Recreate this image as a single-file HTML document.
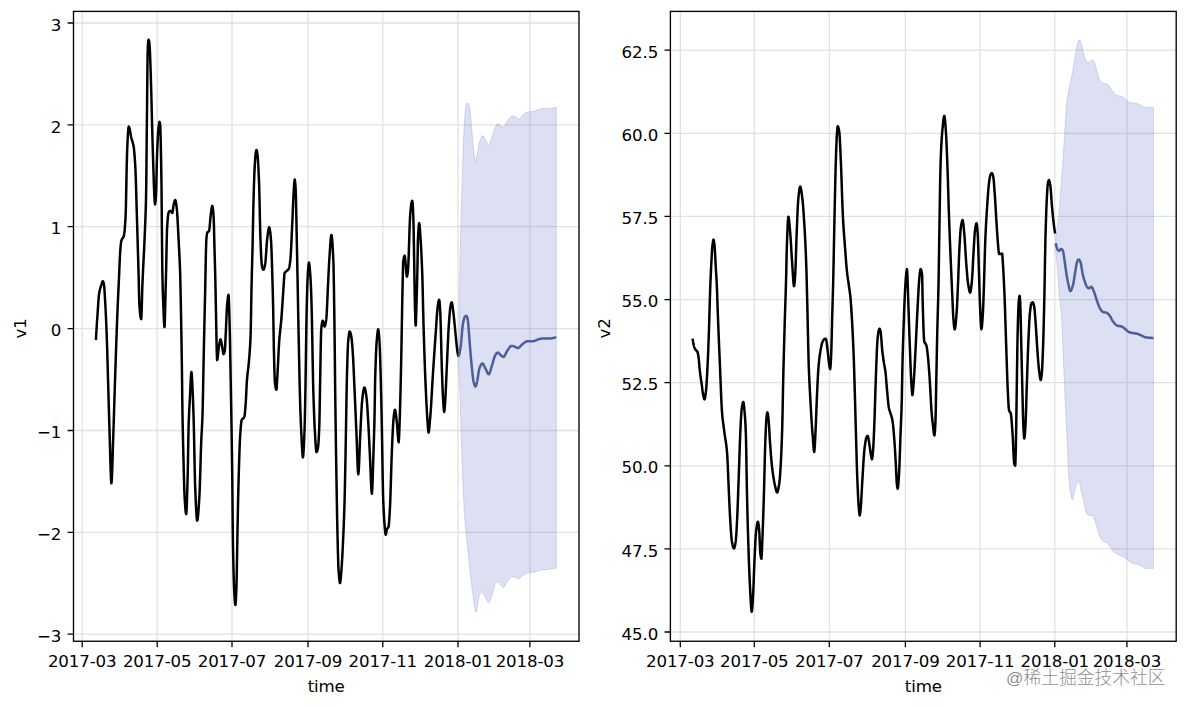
<!DOCTYPE html>
<html><head><meta charset="utf-8"><title>forecast</title>
<style>html,body{margin:0;padding:0;background:#fff}svg{display:block}text{font-family:"DejaVu Sans","Liberation Sans",sans-serif;font-size:16.67px;fill:#000;letter-spacing:-0.15px}.wm{letter-spacing:0;font-family:"Liberation Sans","Noto Sans CJK SC",sans-serif}</style></head><body>
<svg width="1187" height="707" viewBox="0 0 1187 707">
<rect width="1187" height="707" fill="#fff"/>
<clipPath id="cl"><rect x="73.5" y="11.4" width="505.5" height="629.85"/></clipPath>
<path d="M82.2 11.4V641.25M157.2 11.4V641.25M232.0 11.4V641.25M308.0 11.4V641.25M382.8 11.4V641.25M458.0 11.4V641.25M529.9 11.4V641.25M73.5 23.0H579.0M73.5 124.9H579.0M73.5 226.7H579.0M73.5 328.6H579.0M73.5 430.5H579.0M73.5 532.4H579.0M73.5 634.2H579.0" fill="none" stroke="#b0b0b0" stroke-opacity="0.38" stroke-width="1.3"/>
<g clip-path="url(#cl)">
<path d="M458.6 346.0 L459.0 319.9 L459.4 295.7 L459.5 290.0 L459.8 273.4 L460.2 252.3 L460.6 233.4 L460.8 225.0 L461.0 217.3 L461.4 203.3 L461.8 190.6 L462.2 178.7 L462.5 170.0 L462.6 167.1 L463.0 155.2 L463.4 144.0 L463.8 134.1 L464.0 130.0 L464.2 126.2 L464.6 118.9 L465.0 112.7 L465.4 108.6 L465.5 108.0 L465.8 106.6 L466.2 105.0 L466.6 103.8 L467.0 103.1 L467.3 102.9 L467.4 102.9 L467.8 103.1 L468.2 103.5 L468.6 104.2 L469.0 105.0 L469.4 106.0 L469.4 106.0 L469.8 108.0 L470.2 111.5 L470.6 115.8 L471.0 120.0 L471.0 120.0 L471.4 124.3 L471.8 129.0 L472.2 133.9 L472.6 138.7 L473.0 143.0 L473.0 143.0 L473.4 147.1 L473.8 151.2 L474.2 154.8 L474.6 157.9 L474.8 159.0 L475.0 160.0 L475.4 161.3 L475.4 161.3 L475.8 160.6 L476.2 159.0 L476.6 157.0 L477.0 155.0 L477.0 155.0 L477.4 153.0 L477.8 150.7 L478.2 148.3 L478.6 146.0 L479.0 143.9 L479.4 142.3 L479.5 142.0 L479.8 141.1 L480.2 140.0 L480.6 138.9 L481.0 137.9 L481.4 137.1 L481.8 136.4 L482.2 135.9 L482.6 135.6 L482.8 135.6 L483.0 135.6 L483.4 136.0 L483.8 136.6 L484.2 137.3 L484.6 138.2 L485.0 139.1 L485.4 139.8 L485.5 140.0 L485.8 140.5 L486.2 141.4 L486.6 142.2 L487.0 143.1 L487.4 143.9 L487.8 144.6 L488.2 145.1 L488.6 145.3 L488.7 145.3 L489.0 145.2 L489.4 144.7 L489.8 143.8 L490.2 142.8 L490.6 141.5 L491.0 140.2 L491.4 138.9 L491.8 137.6 L492.0 137.0 L492.2 136.4 L492.6 135.1 L493.0 133.7 L493.4 132.2 L493.8 130.9 L494.2 129.7 L494.5 129.0 L494.6 128.8 L495.0 127.9 L495.4 127.1 L495.8 126.3 L496.2 125.5 L496.6 124.9 L497.0 124.3 L497.4 124.0 L497.8 123.8 L497.9 123.8 L498.2 123.8 L498.6 124.0 L499.0 124.3 L499.4 124.6 L499.8 125.0 L500.2 125.3 L500.5 125.5 L500.6 125.6 L501.0 125.8 L501.4 126.1 L501.8 126.4 L502.2 126.6 L502.6 126.8 L503.0 127.0 L503.3 127.0 L503.4 127.0 L503.8 126.8 L504.2 126.4 L504.6 125.8 L505.0 125.1 L505.4 124.3 L505.8 123.5 L506.2 122.8 L506.6 122.1 L507.0 121.5 L507.0 121.5 L507.4 121.0 L507.8 120.5 L508.2 119.9 L508.6 119.3 L509.0 118.8 L509.4 118.2 L509.8 117.7 L510.2 117.3 L510.6 116.8 L511.0 116.5 L511.4 116.2 L511.8 116.0 L512.2 115.8 L512.5 115.8 L512.6 115.8 L513.0 115.9 L513.4 116.0 L513.8 116.1 L514.2 116.3 L514.6 116.5 L515.0 116.7 L515.4 117.0 L515.5 117.0 L515.8 117.2 L516.2 117.4 L516.6 117.7 L517.0 118.0 L517.4 118.3 L517.8 118.6 L518.2 118.8 L518.6 118.9 L519.0 119.0 L519.0 119.0 L519.4 118.9 L519.8 118.7 L520.2 118.3 L520.6 117.9 L521.0 117.4 L521.4 116.9 L521.8 116.3 L522.2 115.8 L522.6 115.4 L523.0 115.0 L523.0 115.0 L523.4 114.7 L523.8 114.3 L524.2 114.0 L524.6 113.7 L525.0 113.4 L525.4 113.1 L525.8 112.8 L526.2 112.5 L526.6 112.3 L527.0 112.2 L527.4 112.0 L527.6 112.0 L527.8 112.0 L528.2 111.9 L528.6 111.9 L529.0 111.8 L529.4 111.8 L529.8 111.8 L530.2 111.7 L530.6 111.7 L531.0 111.7 L531.4 111.7 L531.8 111.6 L532.2 111.6 L532.6 111.6 L533.0 111.5 L533.0 111.5 L533.4 111.4 L533.8 111.3 L534.2 111.2 L534.6 111.1 L535.0 110.9 L535.4 110.7 L535.8 110.5 L536.2 110.3 L536.6 110.1 L537.0 109.9 L537.4 109.7 L537.8 109.6 L538.2 109.4 L538.6 109.2 L539.0 109.1 L539.4 108.9 L539.8 108.8 L540.2 108.7 L540.6 108.7 L540.6 108.7 L541.0 108.7 L541.4 108.6 L541.8 108.6 L542.2 108.6 L542.6 108.6 L543.0 108.6 L543.4 108.6 L543.8 108.5 L544.2 108.5 L544.6 108.5 L545.0 108.5 L545.4 108.5 L545.8 108.5 L546.2 108.5 L546.6 108.5 L547.0 108.5 L547.4 108.4 L547.8 108.4 L548.2 108.4 L548.6 108.4 L549.0 108.4 L549.4 108.4 L549.8 108.3 L550.2 108.3 L550.3 108.3 L550.6 108.3 L551.0 108.2 L551.4 108.2 L551.8 108.1 L552.2 108.1 L552.6 108.0 L553.0 107.9 L553.4 107.9 L553.8 107.8 L554.2 107.7 L554.6 107.6 L555.0 107.5 L555.4 107.4 L555.8 107.3 L556.2 107.2 L556.3 107.2 L556.3 568.1 L556.2 568.1 L555.8 568.2 L555.4 568.3 L555.0 568.3 L554.6 568.4 L554.2 568.5 L553.8 568.6 L553.4 568.6 L553.0 568.7 L552.6 568.8 L552.2 568.8 L551.8 568.9 L551.4 569.0 L551.0 569.0 L550.6 569.1 L550.2 569.1 L549.8 569.2 L549.4 569.2 L549.0 569.3 L548.6 569.3 L548.2 569.4 L548.1 569.4 L547.8 569.4 L547.4 569.5 L547.0 569.5 L546.6 569.5 L546.2 569.6 L545.8 569.6 L545.4 569.6 L545.0 569.7 L544.6 569.7 L544.2 569.7 L543.8 569.8 L543.4 569.8 L543.0 569.8 L542.6 569.9 L542.2 569.9 L541.8 569.9 L541.4 570.0 L541.0 570.0 L540.6 570.1 L540.6 570.1 L540.2 570.2 L539.8 570.3 L539.4 570.4 L539.0 570.5 L538.6 570.6 L538.2 570.8 L537.8 571.0 L537.4 571.1 L537.0 571.3 L536.6 571.4 L536.2 571.6 L535.8 571.7 L535.4 571.9 L535.0 572.0 L534.6 572.1 L534.2 572.2 L534.1 572.2 L533.8 572.2 L533.4 572.3 L533.0 572.3 L532.6 572.4 L532.2 572.4 L531.8 572.5 L531.4 572.5 L531.0 572.5 L530.6 572.6 L530.2 572.6 L529.8 572.6 L529.4 572.7 L529.0 572.7 L528.6 572.7 L528.2 572.8 L527.8 572.9 L527.6 572.9 L527.4 572.9 L527.0 573.0 L526.6 573.2 L526.2 573.4 L525.8 573.5 L525.4 573.8 L525.0 574.0 L524.6 574.2 L524.2 574.5 L523.8 574.7 L523.4 574.9 L523.3 575.0 L523.0 575.2 L522.6 575.5 L522.2 575.9 L521.8 576.3 L521.4 576.7 L521.0 577.2 L520.6 577.6 L520.2 577.9 L519.8 578.2 L519.4 578.5 L519.0 578.6 L518.6 578.7 L518.6 578.7 L518.2 578.7 L517.8 578.5 L517.4 578.4 L517.0 578.1 L516.6 577.9 L516.2 577.7 L515.8 577.6 L515.8 577.6 L515.4 577.5 L515.0 577.4 L514.6 577.2 L514.2 577.1 L513.8 577.0 L513.4 576.9 L513.0 576.8 L512.6 576.7 L512.2 576.6 L511.8 576.6 L511.5 576.6 L511.4 576.6 L511.0 576.7 L510.6 577.0 L510.2 577.4 L509.8 577.9 L509.4 578.5 L509.0 579.1 L508.6 579.8 L508.2 580.5 L507.8 581.1 L507.4 581.7 L507.2 582.0 L507.0 582.3 L506.6 582.9 L506.2 583.7 L505.8 584.4 L505.4 585.2 L505.0 585.9 L504.6 586.5 L504.2 586.9 L503.8 587.2 L503.5 587.3 L503.4 587.3 L503.0 587.2 L502.6 587.0 L502.2 586.7 L501.8 586.3 L501.4 585.9 L501.0 585.5 L500.7 585.2 L500.6 585.1 L500.2 584.6 L499.8 584.0 L499.4 583.4 L499.0 582.9 L498.6 582.4 L498.2 582.1 L497.9 582.0 L497.8 582.0 L497.4 582.1 L497.0 582.3 L496.6 582.6 L496.2 583.0 L495.8 583.5 L495.4 584.0 L495.3 584.1 L495.0 584.6 L494.6 585.6 L494.2 587.0 L493.8 588.5 L493.4 590.2 L493.0 591.8 L492.6 593.3 L492.2 594.6 L492.1 594.9 L491.8 595.7 L491.4 597.0 L491.0 598.2 L490.6 599.4 L490.2 600.4 L489.8 601.3 L489.4 602.0 L489.0 602.4 L488.8 602.4 L488.6 602.4 L488.2 602.2 L487.8 601.8 L487.4 601.3 L487.0 600.6 L486.6 599.9 L486.2 599.2 L485.8 598.4 L485.4 597.6 L485.0 596.8 L484.6 596.2 L484.5 596.0 L484.2 595.5 L483.8 594.7 L483.4 593.9 L483.0 593.1 L482.6 592.5 L482.2 592.0 L481.8 591.7 L481.7 591.7 L481.4 591.8 L481.0 592.3 L480.6 593.0 L480.2 593.9 L479.8 595.0 L479.4 596.1 L479.1 597.0 L479.0 597.3 L478.6 599.0 L478.2 601.2 L477.8 603.7 L477.4 606.3 L477.0 608.7 L476.6 610.6 L476.2 611.8 L475.9 612.1 L475.8 612.1 L475.4 611.4 L475.0 609.8 L474.6 607.6 L474.2 604.9 L473.8 602.0 L473.4 598.8 L473.0 595.7 L472.6 592.7 L472.6 592.7 L472.2 589.7 L471.8 586.5 L471.4 583.1 L471.0 579.5 L470.6 575.9 L470.2 572.1 L469.8 568.4 L469.4 564.7 L469.4 564.7 L469.0 561.0 L468.6 557.3 L468.2 553.6 L467.8 549.8 L467.4 546.0 L467.0 542.1 L466.6 538.0 L466.5 537.0 L466.2 534.0 L465.8 530.1 L465.4 526.0 L465.0 521.5 L464.6 516.4 L464.5 515.0 L464.2 510.2 L463.8 502.5 L463.4 493.9 L463.0 484.7 L462.8 480.0 L462.6 475.3 L462.2 465.2 L461.8 454.5 L461.4 443.0 L461.3 440.0 L461.0 429.9 L460.6 414.7 L460.2 400.6 L460.0 395.0 L459.8 390.1 L459.4 381.2 L459.0 373.6 L458.6 368.0 Z" fill="#4c62bc" fill-opacity="0.195" stroke="#4c62bc" stroke-opacity="0.2" stroke-width="1"/>
<path d="M95.9 340.1 L96.3 333.3 L96.7 326.7 L97.1 320.5 L97.5 314.5 L97.6 313.1 L97.9 308.6 L98.3 302.6 L98.7 297.3 L99.1 293.7 L99.1 293.7 L99.5 291.5 L99.9 289.7 L100.3 288.2 L100.7 286.9 L101.1 285.7 L101.3 285.1 L101.5 284.4 L101.9 283.1 L102.3 281.9 L102.7 281.2 L102.8 281.2 L103.1 281.5 L103.5 282.5 L103.9 284.0 L103.9 284.0 L104.3 287.5 L104.7 293.6 L105.1 300.6 L105.2 302.3 L105.5 307.7 L105.9 315.7 L106.3 324.7 L106.7 334.7 L106.7 334.7 L107.1 346.5 L107.5 360.1 L107.9 374.5 L108.3 388.6 L108.3 388.6 L108.7 402.6 L109.1 416.8 L109.5 430.0 L109.5 430.0 L109.9 443.9 L110.3 458.8 L110.7 472.0 L111.1 481.0 L111.4 483.3 L111.5 483.1 L111.9 477.8 L112.3 467.4 L112.7 454.3 L113.1 441.0 L113.3 435.0 L113.5 429.2 L113.9 416.9 L114.3 403.9 L114.7 390.8 L115.1 378.1 L115.3 372.0 L115.5 366.1 L115.9 354.3 L116.3 342.7 L116.7 331.5 L117.1 320.7 L117.4 313.1 L117.5 310.7 L117.9 301.3 L118.3 292.5 L118.7 283.9 L119.1 275.2 L119.2 273.0 L119.5 265.8 L119.9 256.5 L120.1 253.0 L120.3 250.3 L120.7 245.4 L121.1 242.0 L121.3 241.0 L121.5 240.3 L121.9 239.4 L122.3 238.7 L122.7 238.2 L123.1 237.7 L123.5 236.9 L123.9 235.7 L123.9 235.7 L124.3 233.4 L124.7 229.7 L125.1 224.5 L125.5 218.1 L125.6 216.3 L125.9 207.2 L126.3 187.6 L126.7 166.5 L127.1 151.6 L127.1 151.6 L127.5 142.5 L127.9 134.5 L128.3 128.8 L128.7 126.6 L128.7 126.6 L129.1 127.1 L129.5 128.3 L129.9 130.2 L130.3 132.3 L130.7 134.6 L131.1 136.8 L131.5 138.6 L131.5 138.6 L131.9 140.0 L132.3 141.2 L132.7 142.4 L133.1 143.8 L133.5 145.7 L133.6 146.2 L133.9 148.3 L134.3 152.2 L134.7 157.2 L135.1 163.3 L135.3 166.7 L135.5 170.8 L135.9 181.9 L136.3 195.4 L136.7 209.6 L136.9 216.3 L137.1 222.9 L137.5 236.3 L137.9 250.1 L138.3 264.2 L138.6 275.0 L138.7 278.9 L139.1 296.4 L139.4 305.0 L139.5 306.4 L139.9 311.4 L140.3 315.3 L140.7 317.9 L141.1 319.1 L141.2 319.2 L141.5 315.3 L141.9 302.1 L142.3 287.8 L142.4 285.0 L142.7 277.9 L143.1 269.3 L143.5 261.3 L143.9 253.4 L144.3 245.1 L144.7 236.0 L144.8 233.5 L145.1 226.3 L145.5 216.5 L145.9 203.6 L146.1 195.0 L146.3 181.0 L146.7 139.7 L146.8 130.0 L147.1 103.6 L147.2 90.0 L147.5 62.1 L147.6 55.0 L147.9 45.6 L148.1 42.5 L148.3 40.9 L148.6 39.7 L148.7 39.8 L149.1 41.4 L149.2 42.0 L149.5 44.7 L149.8 49.0 L149.9 50.8 L150.3 61.2 L150.4 64.0 L150.7 73.0 L151.1 86.5 L151.2 90.0 L151.5 101.3 L151.9 117.5 L152.2 129.0 L152.3 132.6 L152.7 146.5 L153.1 159.7 L153.3 166.0 L153.5 172.4 L153.9 185.2 L154.3 195.0 L154.3 195.0 L154.7 202.0 L155.0 204.4 L155.1 204.3 L155.5 201.6 L155.9 196.5 L156.0 195.0 L156.3 185.8 L156.7 167.3 L156.9 160.0 L157.1 154.4 L157.5 144.2 L157.9 135.7 L158.3 130.0 L158.3 130.0 L158.7 126.1 L159.1 123.1 L159.5 121.9 L159.5 121.9 L159.9 123.0 L160.3 126.0 L160.3 126.0 L160.7 140.0 L160.9 150.0 L161.1 160.0 L161.5 185.0 L161.5 185.0 L161.9 229.5 L162.3 270.0 L162.3 270.0 L162.7 287.7 L163.1 299.7 L163.2 302.3 L163.5 310.2 L163.9 319.9 L164.3 326.2 L164.5 327.1 L164.7 324.9 L165.1 311.5 L165.5 295.0 L165.5 295.0 L165.9 279.2 L166.3 262.0 L166.3 262.0 L166.7 241.2 L167.0 230.0 L167.1 228.2 L167.5 222.0 L167.9 217.2 L168.3 213.9 L168.7 212.2 L168.8 212.0 L169.1 211.6 L169.5 211.2 L169.9 211.0 L170.3 210.9 L170.3 210.9 L170.7 211.1 L171.1 211.6 L171.5 212.2 L171.9 212.7 L172.3 213.0 L172.4 213.0 L172.7 211.9 L173.1 208.5 L173.5 205.5 L173.5 205.5 L173.9 203.7 L174.3 202.0 L174.7 200.8 L175.1 200.1 L175.2 200.1 L175.5 200.5 L175.9 202.2 L176.3 204.7 L176.7 207.6 L176.7 207.6 L177.1 211.9 L177.5 218.3 L177.9 225.9 L178.3 233.9 L178.5 237.8 L178.7 241.5 L179.1 248.9 L179.5 256.9 L179.9 266.4 L180.2 275.0 L180.3 278.5 L180.7 297.0 L181.0 313.0 L181.1 318.3 L181.5 341.2 L181.9 367.0 L181.9 367.0 L182.3 400.4 L182.5 415.0 L182.7 426.0 L183.1 444.3 L183.5 460.0 L183.5 460.0 L183.9 475.8 L184.3 489.9 L184.6 497.0 L184.7 498.7 L185.1 504.9 L185.5 510.0 L185.9 513.2 L186.2 514.0 L186.3 513.7 L186.7 507.9 L187.1 496.4 L187.5 482.1 L187.7 474.7 L187.9 465.2 L188.3 440.4 L188.6 426.0 L188.7 423.0 L189.1 413.0 L189.5 405.3 L189.9 398.0 L189.9 398.0 L190.3 389.3 L190.7 380.3 L191.1 373.8 L191.4 372.0 L191.5 372.2 L191.9 376.2 L192.3 383.8 L192.7 392.8 L192.8 395.0 L193.1 402.4 L193.5 414.6 L193.8 425.0 L193.9 428.9 L194.3 448.6 L194.7 469.6 L195.1 485.0 L195.1 485.0 L195.5 495.1 L195.9 504.5 L196.3 512.3 L196.7 517.8 L197.1 520.5 L197.2 520.6 L197.5 519.9 L197.9 517.3 L198.3 513.0 L198.7 507.5 L199.1 501.2 L199.4 496.3 L199.5 494.5 L199.9 484.3 L200.3 471.1 L200.7 457.2 L201.1 444.9 L201.2 442.3 L201.5 435.8 L201.9 428.6 L202.3 420.3 L202.5 415.0 L202.7 407.9 L203.1 388.3 L203.5 366.3 L203.7 356.3 L203.9 347.0 L204.3 328.9 L204.7 311.2 L205.1 293.5 L205.2 289.0 L205.5 273.7 L205.9 252.5 L206.3 240.0 L206.3 240.0 L206.7 235.9 L207.1 233.3 L207.4 232.4 L207.5 232.2 L207.9 231.8 L208.3 231.6 L208.7 231.4 L209.1 230.9 L209.1 230.9 L209.5 228.6 L209.9 224.1 L210.3 219.2 L210.6 216.3 L210.7 215.5 L211.1 212.2 L211.5 209.1 L211.9 206.8 L212.3 205.9 L212.3 205.9 L212.7 207.1 L213.1 210.3 L213.5 215.0 L213.6 216.3 L213.9 224.1 L214.3 240.6 L214.5 248.6 L214.7 255.7 L215.1 270.0 L215.3 278.0 L215.5 287.4 L215.9 308.3 L216.0 313.1 L216.3 329.0 L216.7 350.3 L217.1 360.1 L217.1 360.1 L217.5 358.8 L217.9 355.6 L218.3 351.7 L218.7 348.2 L218.8 347.6 L219.1 345.7 L219.5 343.2 L219.9 340.9 L220.3 339.6 L220.5 339.4 L220.7 339.6 L221.1 340.9 L221.5 342.9 L221.9 345.0 L222.0 345.5 L222.3 347.3 L222.7 350.3 L223.1 353.0 L223.5 354.1 L223.5 354.1 L223.9 353.8 L224.3 352.8 L224.7 351.3 L224.8 350.9 L225.1 347.4 L225.5 338.9 L225.7 334.7 L225.9 330.4 L226.3 320.7 L226.7 311.5 L227.0 306.7 L227.1 305.5 L227.5 301.0 L227.9 297.3 L228.3 295.1 L228.5 294.8 L228.7 296.3 L229.1 306.1 L229.5 320.3 L229.6 323.9 L229.9 336.5 L230.3 357.7 L230.7 380.0 L230.7 380.0 L231.1 401.7 L231.5 425.0 L231.5 425.0 L231.9 450.5 L232.3 480.0 L232.3 480.0 L232.7 522.9 L232.9 540.0 L233.1 551.1 L233.5 569.7 L233.9 583.6 L234.3 592.7 L234.3 592.7 L234.7 599.1 L235.1 603.8 L235.4 605.0 L235.5 604.8 L235.9 599.8 L236.3 590.4 L236.5 585.0 L236.7 577.3 L237.1 553.9 L237.5 530.0 L237.5 530.0 L237.9 510.2 L238.3 491.8 L238.6 480.0 L238.7 476.5 L239.1 462.8 L239.5 450.5 L239.9 440.4 L240.2 435.0 L240.3 433.5 L240.7 428.1 L241.1 423.6 L241.5 420.7 L241.7 420.0 L241.9 419.6 L242.3 419.0 L242.7 418.7 L243.1 418.4 L243.5 418.2 L243.9 417.7 L244.3 417.0 L244.3 417.0 L244.7 415.0 L245.1 411.1 L245.5 406.1 L245.8 402.0 L245.9 400.5 L246.3 392.1 L246.7 383.6 L246.8 382.1 L247.1 378.4 L247.5 374.4 L247.9 371.0 L248.3 367.7 L248.7 364.0 L249.0 360.6 L249.1 359.4 L249.5 354.5 L249.9 348.9 L250.3 341.9 L250.7 332.5 L250.7 332.5 L251.1 312.2 L251.5 288.0 L251.5 288.0 L251.9 271.7 L252.3 257.1 L252.6 245.0 L252.7 240.3 L253.1 219.2 L253.4 205.0 L253.5 201.1 L253.9 186.7 L254.3 175.3 L254.4 173.0 L254.7 166.9 L255.1 159.7 L255.5 154.5 L255.7 153.0 L255.9 151.9 L256.3 150.3 L256.5 150.0 L256.7 150.3 L257.1 152.1 L257.5 155.1 L257.6 155.9 L257.9 159.1 L258.3 165.6 L258.7 174.0 L259.1 183.9 L259.1 183.9 L259.5 198.8 L259.9 218.2 L260.3 234.9 L260.4 237.8 L260.7 245.5 L261.1 254.9 L261.5 262.0 L261.9 265.9 L261.9 265.9 L262.3 267.5 L262.7 268.8 L263.1 269.5 L263.4 269.7 L263.5 269.7 L263.9 269.1 L264.3 267.9 L264.7 266.2 L265.1 264.2 L265.2 263.7 L265.5 261.4 L265.9 256.6 L266.3 250.6 L266.7 244.6 L267.1 239.6 L267.3 237.8 L267.5 236.3 L267.9 233.2 L268.3 230.4 L268.7 228.4 L269.1 227.3 L269.2 227.3 L269.5 227.8 L269.9 229.6 L270.3 232.7 L270.7 236.7 L271.0 240.0 L271.1 241.3 L271.5 249.9 L271.9 261.9 L272.3 275.0 L272.3 275.0 L272.7 288.9 L273.1 305.4 L273.2 310.0 L273.5 328.0 L273.8 345.5 L273.9 349.9 L274.3 366.7 L274.7 379.0 L274.9 382.1 L275.1 383.8 L275.5 386.7 L275.9 388.7 L276.3 389.7 L276.4 389.7 L276.7 387.7 L277.1 381.0 L277.5 373.5 L277.5 373.5 L277.9 366.1 L278.3 357.8 L278.7 349.6 L279.1 342.6 L279.2 341.2 L279.5 337.5 L279.9 333.3 L280.3 329.5 L280.7 325.9 L281.1 321.9 L281.3 319.6 L281.5 317.1 L281.9 311.7 L282.3 305.8 L282.7 299.8 L283.1 293.8 L283.5 288.0 L283.5 288.0 L283.9 281.4 L284.3 275.2 L284.6 273.0 L284.7 272.8 L285.1 272.2 L285.5 271.9 L285.9 271.6 L286.3 271.3 L286.7 271.0 L286.7 271.0 L287.1 270.6 L287.5 270.3 L287.9 269.9 L288.3 269.5 L288.7 268.9 L288.9 268.5 L289.1 268.0 L289.5 266.2 L289.9 263.6 L290.3 260.3 L290.4 259.4 L290.7 255.8 L291.1 248.7 L291.5 240.1 L291.9 231.2 L292.1 227.0 L292.3 222.7 L292.7 213.4 L293.1 203.8 L293.5 195.0 L293.9 188.2 L293.9 188.2 L294.3 182.5 L294.7 179.6 L294.7 179.6 L295.1 181.7 L295.5 186.7 L295.6 188.2 L295.9 196.0 L296.3 213.8 L296.7 235.0 L296.9 245.0 L297.1 254.9 L297.5 275.8 L297.6 281.0 L297.9 297.1 L298.3 318.7 L298.6 334.0 L298.7 338.9 L299.1 358.6 L299.5 377.5 L299.9 394.4 L300.2 405.0 L300.3 408.1 L300.7 419.4 L301.1 428.9 L301.4 435.0 L301.5 436.9 L301.9 445.0 L302.3 452.2 L302.7 456.7 L302.9 457.4 L303.1 456.8 L303.5 452.7 L303.9 445.3 L304.3 435.9 L304.6 428.0 L304.7 425.0 L305.1 407.1 L305.5 385.0 L305.5 385.0 L305.9 358.6 L306.3 330.0 L306.6 313.1 L306.7 308.7 L307.1 292.5 L307.5 280.2 L307.7 276.0 L307.9 272.7 L308.3 266.8 L308.7 263.1 L308.9 262.6 L309.1 262.9 L309.5 265.5 L309.9 269.8 L310.3 275.2 L310.5 278.0 L310.7 281.3 L311.1 290.6 L311.5 302.3 L311.5 302.3 L311.9 318.6 L312.3 339.9 L312.7 362.3 L313.1 382.2 L313.3 390.0 L313.5 396.7 L313.9 408.9 L314.3 419.5 L314.7 428.2 L314.8 430.0 L315.1 435.4 L315.5 442.4 L315.9 448.2 L316.3 451.6 L316.5 452.1 L316.7 452.0 L317.1 451.3 L317.5 450.0 L317.9 448.2 L318.0 447.7 L318.3 445.3 L318.7 439.4 L319.1 431.0 L319.3 426.0 L319.5 418.5 L319.9 395.3 L320.2 377.8 L320.3 372.5 L320.7 349.0 L321.1 331.8 L321.2 330.0 L321.5 326.8 L321.9 323.5 L322.3 321.4 L322.7 320.7 L322.7 320.7 L323.1 321.4 L323.5 322.9 L323.9 324.7 L324.3 326.1 L324.6 326.5 L324.7 326.5 L325.1 325.7 L325.5 324.1 L325.9 321.9 L326.2 320.0 L326.3 319.2 L326.7 313.9 L327.1 305.9 L327.5 296.7 L327.9 287.3 L328.2 281.0 L328.3 279.0 L328.7 270.8 L329.1 263.0 L329.4 258.0 L329.5 256.5 L329.9 250.3 L330.3 244.2 L330.7 239.1 L331.1 235.8 L331.4 235.0 L331.5 235.1 L331.9 237.0 L332.3 241.2 L332.7 247.4 L333.1 255.3 L333.4 262.0 L333.5 264.9 L333.9 285.2 L334.3 312.9 L334.4 320.0 L334.7 344.7 L335.1 382.1 L335.3 399.0 L335.5 414.2 L335.9 442.5 L336.3 468.5 L336.4 474.7 L336.7 492.9 L337.1 515.8 L337.5 535.0 L337.5 535.0 L337.9 551.5 L338.3 564.9 L338.5 569.0 L338.7 572.0 L339.1 577.2 L339.5 581.1 L339.9 582.9 L340.0 583.0 L340.3 582.1 L340.7 578.8 L341.1 574.1 L341.5 569.0 L341.5 569.0 L341.9 563.3 L342.3 556.4 L342.7 548.5 L343.1 540.0 L343.1 540.0 L343.5 531.1 L343.9 521.2 L344.3 509.9 L344.6 500.0 L344.7 496.3 L345.1 477.9 L345.5 456.4 L345.8 440.0 L345.9 434.5 L346.3 409.9 L346.7 386.7 L346.9 377.8 L347.1 370.3 L347.5 356.6 L347.9 346.0 L348.2 341.2 L348.3 340.1 L348.7 336.3 L349.1 333.4 L349.5 331.7 L349.7 331.5 L349.9 331.6 L350.3 332.3 L350.7 333.7 L351.1 335.4 L351.4 336.9 L351.5 337.5 L351.9 340.9 L352.3 345.8 L352.7 351.7 L353.0 356.3 L353.1 357.9 L353.5 365.7 L353.9 374.7 L354.3 384.1 L354.5 388.6 L354.7 393.1 L355.1 402.1 L355.5 411.4 L355.9 420.6 L356.3 429.7 L356.4 432.0 L356.7 439.6 L357.1 451.3 L357.5 462.5 L357.9 471.0 L358.3 474.3 L358.3 474.3 L358.7 471.2 L359.1 463.4 L359.5 453.1 L359.9 442.6 L360.2 436.0 L360.3 434.1 L360.7 425.8 L361.1 417.5 L361.5 409.7 L361.9 403.3 L362.2 400.0 L362.3 399.1 L362.7 395.8 L363.1 392.7 L363.5 390.2 L363.9 388.4 L364.3 387.5 L364.4 387.5 L364.7 387.8 L365.1 388.9 L365.5 390.8 L365.9 393.1 L366.3 395.8 L366.5 397.2 L366.7 398.9 L367.1 403.5 L367.5 409.5 L367.9 416.3 L368.3 423.3 L368.4 425.0 L368.7 430.5 L369.1 438.6 L369.5 447.0 L369.8 453.1 L369.9 455.2 L370.3 464.6 L370.7 474.9 L371.1 484.2 L371.5 491.1 L371.9 493.7 L371.9 493.7 L372.3 489.2 L372.7 478.3 L373.1 464.7 L373.4 455.0 L373.5 452.1 L373.9 440.0 L374.3 426.1 L374.5 418.0 L374.7 407.1 L375.1 382.1 L375.2 377.8 L375.5 367.7 L375.9 356.2 L376.3 347.4 L376.7 341.2 L376.7 341.2 L377.1 336.5 L377.5 332.6 L377.9 330.0 L378.2 329.3 L378.3 329.4 L378.7 331.6 L379.1 335.8 L379.5 341.2 L379.5 341.2 L379.9 349.6 L380.3 362.1 L380.7 377.0 L381.0 388.6 L381.1 392.5 L381.5 410.3 L381.9 430.0 L381.9 430.0 L382.3 453.5 L382.7 478.4 L383.1 496.3 L383.1 496.3 L383.5 506.7 L383.9 514.9 L384.3 521.4 L384.7 526.5 L384.7 526.5 L385.1 531.0 L385.5 534.2 L385.7 534.7 L385.9 534.4 L386.3 532.5 L386.7 530.1 L387.0 529.0 L387.1 528.8 L387.5 528.3 L387.9 527.9 L388.3 527.4 L388.5 527.0 L388.7 526.1 L389.1 522.1 L389.5 516.0 L389.9 508.8 L390.0 507.0 L390.3 500.2 L390.7 488.0 L391.1 474.4 L391.5 461.3 L391.8 453.1 L391.9 450.7 L392.3 441.2 L392.7 432.2 L393.1 424.6 L393.5 419.0 L393.6 418.0 L393.9 415.4 L394.3 412.3 L394.7 410.2 L395.0 409.7 L395.1 409.8 L395.5 411.2 L395.9 413.9 L396.3 417.5 L396.7 421.2 L396.9 423.0 L397.1 425.0 L397.5 430.3 L397.9 435.9 L398.3 440.5 L398.7 442.3 L398.7 442.3 L399.1 436.9 L399.5 425.8 L399.6 423.0 L399.9 414.0 L400.3 399.5 L400.7 383.1 L401.0 370.0 L401.1 365.4 L401.5 344.5 L401.9 321.6 L402.3 299.4 L402.6 285.0 L402.7 280.4 L403.1 263.7 L403.2 262.0 L403.5 259.7 L403.9 257.5 L404.3 256.1 L404.7 255.7 L404.7 255.7 L405.1 257.5 L405.5 262.0 L405.9 267.6 L406.3 272.8 L406.7 276.1 L406.9 276.6 L407.1 276.3 L407.5 274.3 L407.9 271.1 L408.0 270.2 L408.3 265.7 L408.7 255.5 L409.1 242.8 L409.5 230.0 L409.9 219.7 L410.1 216.3 L410.3 213.7 L410.7 208.9 L411.1 205.1 L411.5 202.6 L411.6 202.2 L411.9 201.3 L412.3 200.7 L412.3 200.7 L412.7 203.9 L413.1 211.6 L413.3 216.3 L413.5 223.1 L413.9 244.3 L414.2 262.0 L414.3 268.0 L414.7 295.0 L414.9 305.0 L415.1 312.3 L415.5 323.8 L415.7 325.6 L415.9 323.5 L416.3 311.0 L416.6 300.0 L416.7 296.7 L417.1 282.7 L417.4 270.0 L417.5 264.2 L417.9 240.0 L417.9 240.0 L418.3 231.7 L418.7 226.0 L419.1 223.3 L419.2 223.2 L419.5 224.4 L419.9 228.8 L420.3 234.8 L420.5 237.8 L420.7 240.8 L421.1 247.5 L421.5 255.4 L421.9 264.5 L422.3 275.0 L422.3 275.0 L422.7 289.6 L423.1 307.6 L423.5 323.9 L423.5 323.9 L423.9 337.3 L424.3 350.0 L424.7 361.8 L425.1 372.7 L425.5 382.7 L425.6 385.0 L425.9 391.8 L426.3 400.4 L426.7 408.2 L427.1 415.0 L427.3 418.0 L427.5 420.9 L427.9 426.9 L428.3 431.4 L428.6 432.6 L428.7 432.5 L429.1 430.1 L429.5 425.9 L429.9 421.1 L430.0 420.0 L430.3 416.6 L430.7 411.4 L430.8 410.0 L431.1 405.5 L431.5 398.8 L431.9 391.6 L432.3 384.5 L432.7 377.8 L432.7 377.8 L433.1 371.5 L433.5 365.3 L433.9 359.3 L434.3 353.3 L434.7 347.5 L435.1 341.8 L435.5 336.1 L435.6 334.7 L435.9 330.3 L436.3 324.1 L436.7 318.0 L437.1 312.6 L437.5 308.3 L437.7 306.7 L437.9 305.4 L438.3 302.8 L438.7 300.8 L439.1 299.8 L439.2 299.8 L439.5 301.2 L439.9 306.2 L440.3 313.1 L440.3 313.1 L440.7 324.1 L441.1 340.0 L441.5 356.6 L441.8 367.0 L441.9 369.9 L442.3 381.4 L442.7 391.6 L443.1 399.4 L443.1 399.4 L443.5 405.7 L443.9 410.6 L444.2 412.0 L444.3 411.8 L444.7 408.4 L445.1 402.5 L445.3 399.4 L445.5 396.1 L445.9 387.8 L446.3 378.4 L446.7 369.2 L446.8 367.0 L447.1 360.5 L447.5 351.4 L447.9 342.5 L448.3 334.1 L448.7 326.9 L448.9 323.9 L449.1 321.1 L449.5 315.8 L449.9 311.1 L450.3 307.4 L450.6 305.6 L450.7 305.2 L451.1 303.5 L451.5 302.5 L451.7 302.3 L451.9 302.6 L452.3 304.3 L452.7 307.2 L453.1 310.3 L453.2 311.0 L453.5 313.4 L453.9 317.0 L454.3 321.1 L454.7 325.3 L455.1 329.5 L455.4 332.5 L455.5 333.5 L455.9 337.5 L456.3 341.7 L456.7 345.7 L457.1 349.3 L457.5 352.0 L457.5 352.0 L457.9 354.1 L458.3 355.8 L458.6 356.7" fill="none" stroke="#000" stroke-width="2.5" stroke-linejoin="round" stroke-linecap="butt"/>
<path d="M458.6 356.7 L459.0 355.5 L459.4 353.8 L459.8 351.8 L460.2 349.4 L460.6 346.8 L460.8 345.5 L461.0 343.9 L461.4 339.8 L461.8 334.9 L462.2 330.0 L462.6 326.0 L462.9 323.9 L463.0 323.4 L463.4 321.4 L463.8 319.7 L464.2 318.2 L464.6 317.1 L465.0 316.5 L465.1 316.4 L465.4 316.2 L465.8 316.1 L466.2 315.9 L466.6 315.9 L466.6 315.9 L467.0 316.5 L467.4 318.1 L467.8 320.1 L467.9 320.7 L468.2 323.1 L468.6 328.0 L469.0 333.6 L469.4 339.0 L469.4 339.0 L469.8 343.9 L470.2 348.9 L470.6 353.8 L471.0 358.5 L471.4 362.9 L471.6 364.9 L471.8 366.9 L472.2 370.8 L472.6 374.6 L473.0 377.9 L473.4 380.7 L473.7 382.1 L473.8 382.5 L474.2 384.0 L474.6 385.3 L475.0 386.2 L475.4 386.5 L475.4 386.5 L475.8 386.1 L476.2 385.0 L476.6 383.6 L477.0 382.1 L477.0 382.1 L477.4 380.3 L477.8 377.8 L478.2 375.1 L478.6 372.4 L479.0 370.1 L479.4 368.4 L479.5 368.1 L479.8 367.3 L480.2 366.4 L480.6 365.5 L481.0 364.7 L481.4 364.1 L481.8 363.7 L482.2 363.4 L482.4 363.4 L482.6 363.4 L483.0 363.8 L483.4 364.4 L483.8 365.2 L484.2 366.0 L484.6 366.9 L485.0 367.7 L485.2 368.1 L485.4 368.5 L485.8 369.3 L486.2 370.1 L486.6 371.0 L487.0 371.9 L487.4 372.7 L487.8 373.4 L488.2 373.9 L488.6 374.2 L488.8 374.2 L489.0 374.1 L489.4 373.7 L489.8 372.8 L490.2 371.6 L490.6 370.2 L491.0 368.7 L491.4 367.2 L491.8 365.8 L492.1 364.9 L492.2 364.6 L492.6 363.3 L493.0 361.9 L493.4 360.5 L493.8 359.1 L494.2 357.8 L494.6 356.7 L495.0 355.7 L495.3 355.2 L495.4 355.1 L495.8 354.5 L496.2 353.9 L496.6 353.4 L497.0 353.0 L497.4 352.7 L497.8 352.6 L497.9 352.6 L498.2 352.7 L498.6 352.9 L499.0 353.3 L499.4 353.8 L499.8 354.3 L500.2 354.7 L500.6 355.1 L500.7 355.2 L501.0 355.4 L501.4 355.8 L501.8 356.1 L502.2 356.4 L502.6 356.6 L503.0 356.8 L503.4 356.9 L503.5 356.9 L503.8 356.8 L504.2 356.5 L504.6 355.9 L505.0 355.2 L505.4 354.4 L505.8 353.6 L506.2 352.7 L506.6 351.9 L507.0 351.2 L507.2 350.9 L507.4 350.6 L507.8 350.0 L508.2 349.4 L508.6 348.8 L509.0 348.2 L509.4 347.6 L509.8 347.1 L510.2 346.6 L510.6 346.3 L511.0 346.0 L511.4 345.9 L511.5 345.9 L511.8 345.9 L512.2 346.0 L512.6 346.0 L513.0 346.1 L513.4 346.2 L513.8 346.3 L514.2 346.4 L514.6 346.6 L514.7 346.6 L515.0 346.7 L515.4 346.9 L515.8 347.2 L516.2 347.4 L516.6 347.7 L517.0 347.9 L517.4 348.0 L517.8 348.1 L517.9 348.1 L518.2 348.1 L518.6 347.9 L519.0 347.6 L519.4 347.3 L519.8 346.9 L520.2 346.5 L520.6 346.0 L521.0 345.5 L521.4 345.1 L521.8 344.7 L522.2 344.4 L522.2 344.4 L522.6 344.1 L523.0 343.8 L523.4 343.5 L523.8 343.2 L524.2 342.8 L524.6 342.5 L525.0 342.3 L525.4 342.0 L525.8 341.7 L526.2 341.5 L526.6 341.4 L527.0 341.3 L527.4 341.2 L527.6 341.2 L527.8 341.2 L528.2 341.2 L528.6 341.2 L529.0 341.2 L529.4 341.2 L529.8 341.2 L530.2 341.2 L530.6 341.2 L531.0 341.2 L531.4 341.2 L531.8 341.2 L532.2 341.2 L532.6 341.2 L533.0 341.2 L533.0 341.2 L533.4 341.2 L533.8 341.1 L534.2 341.0 L534.6 340.9 L535.0 340.8 L535.4 340.6 L535.8 340.4 L536.2 340.3 L536.6 340.1 L537.0 339.9 L537.4 339.7 L537.8 339.5 L538.2 339.4 L538.6 339.2 L539.0 339.1 L539.4 339.0 L539.5 339.0 L539.8 338.9 L540.2 338.9 L540.6 338.8 L541.0 338.7 L541.4 338.7 L541.8 338.6 L542.2 338.6 L542.6 338.6 L542.7 338.6 L543.0 338.6 L543.4 338.6 L543.8 338.6 L544.2 338.6 L544.6 338.6 L545.0 338.6 L545.4 338.6 L545.8 338.6 L546.2 338.6 L546.6 338.6 L547.0 338.6 L547.4 338.6 L547.8 338.6 L548.1 338.6 L548.2 338.6 L548.6 338.6 L549.0 338.6 L549.4 338.6 L549.8 338.5 L550.2 338.5 L550.6 338.4 L551.0 338.4 L551.4 338.3 L551.8 338.3 L552.2 338.2 L552.6 338.1 L553.0 338.1 L553.4 338.0 L553.8 337.9 L554.2 337.8 L554.6 337.7 L555.0 337.6 L555.4 337.5 L555.8 337.4 L556.2 337.3 L556.3 337.3" fill="none" stroke="#4b5f9b" stroke-width="2.5" stroke-linejoin="round" stroke-linecap="butt"/>
</g>
<path d="M82.2 641.25v5.9M157.2 641.25v5.9M232.0 641.25v5.9M308.0 641.25v5.9M382.8 641.25v5.9M458.0 641.25v5.9M529.9 641.25v5.9M73.5 23.0h-5.9M73.5 124.9h-5.9M73.5 226.7h-5.9M73.5 328.6h-5.9M73.5 430.5h-5.9M73.5 532.4h-5.9M73.5 634.2h-5.9" fill="none" stroke="#000" stroke-width="1.3"/>
<rect x="73.5" y="11.4" width="505.5" height="629.85" fill="none" stroke="#000" stroke-width="1.35"/>
<text x="82.2" y="666.6" text-anchor="middle">2017-03</text>
<text x="157.2" y="666.6" text-anchor="middle">2017-05</text>
<text x="232.0" y="666.6" text-anchor="middle">2017-07</text>
<text x="308.0" y="666.6" text-anchor="middle">2017-09</text>
<text x="382.8" y="666.6" text-anchor="middle">2017-11</text>
<text x="458.0" y="666.6" text-anchor="middle">2018-01</text>
<text x="529.9" y="666.6" text-anchor="middle">2018-03</text>
<text x="61.2" y="30.6" text-anchor="end">3</text>
<text x="61.2" y="132.5" text-anchor="end">2</text>
<text x="61.2" y="234.3" text-anchor="end">1</text>
<text x="61.2" y="336.2" text-anchor="end">0</text>
<text x="61.2" y="438.1" text-anchor="end">−1</text>
<text x="61.2" y="540.0" text-anchor="end">−2</text>
<text x="61.2" y="641.8" text-anchor="end">−3</text>
<text x="326.2" y="692" text-anchor="middle">time</text>
<text transform="translate(26.4 328.4) rotate(-90)" text-anchor="middle">v1</text>
<clipPath id="cr"><rect x="670.4" y="11.4" width="505.80000000000007" height="629.85"/></clipPath>
<path d="M680.3 11.4V641.25M754.3 11.4V641.25M829.3 11.4V641.25M905.4 11.4V641.25M980.1 11.4V641.25M1054.8 11.4V641.25M1126.9 11.4V641.25M670.4 50.2H1176.2M670.4 133.3H1176.2M670.4 216.4H1176.2M670.4 299.6H1176.2M670.4 382.7H1176.2M670.4 465.8H1176.2M670.4 548.9H1176.2M670.4 632.0H1176.2" fill="none" stroke="#b0b0b0" stroke-opacity="0.38" stroke-width="1.3"/>
<g clip-path="url(#cr)">
<path d="M1055.8 236.0 L1056.2 233.5 L1056.6 231.0 L1057.0 228.4 L1057.4 225.7 L1057.5 225.0 L1057.8 223.0 L1058.2 220.3 L1058.6 217.5 L1059.0 214.0 L1059.0 214.0 L1059.4 209.4 L1059.8 203.7 L1060.2 197.3 L1060.6 190.9 L1061.0 185.0 L1061.0 185.0 L1061.4 179.7 L1061.8 174.6 L1062.2 169.5 L1062.6 164.5 L1063.0 159.2 L1063.3 155.0 L1063.4 153.5 L1063.8 147.4 L1064.2 141.0 L1064.6 134.4 L1065.0 128.1 L1065.1 126.6 L1065.4 121.9 L1065.8 115.6 L1066.2 109.7 L1066.6 105.0 L1066.6 105.0 L1067.0 101.4 L1067.4 98.2 L1067.8 95.4 L1068.2 92.9 L1068.6 90.6 L1068.7 90.0 L1069.0 88.4 L1069.4 86.4 L1069.8 84.6 L1070.2 82.9 L1070.6 81.2 L1071.0 79.6 L1071.4 77.8 L1071.8 75.9 L1072.0 74.9 L1072.2 73.8 L1072.6 71.5 L1073.0 69.1 L1073.4 66.5 L1073.8 63.9 L1074.2 61.4 L1074.6 58.9 L1075.0 56.5 L1075.2 55.4 L1075.4 54.3 L1075.8 52.0 L1076.2 49.6 L1076.6 47.4 L1077.0 45.3 L1077.4 43.7 L1077.8 42.5 L1077.8 42.5 L1078.2 41.6 L1078.6 40.8 L1079.0 40.2 L1079.4 39.9 L1079.5 39.9 L1079.8 40.1 L1080.2 40.8 L1080.6 41.9 L1081.0 43.3 L1081.4 44.7 L1081.7 45.7 L1081.8 46.0 L1082.2 47.6 L1082.6 49.3 L1083.0 51.2 L1083.4 53.1 L1083.8 54.8 L1084.2 56.2 L1084.3 56.5 L1084.6 57.4 L1085.0 58.5 L1085.4 59.6 L1085.8 60.5 L1086.2 61.2 L1086.6 61.5 L1086.6 61.5 L1087.0 61.6 L1087.4 61.7 L1087.8 61.8 L1088.2 61.8 L1088.6 61.9 L1089.0 61.9 L1089.2 61.9 L1089.4 61.9 L1089.8 61.7 L1090.2 61.3 L1090.6 60.8 L1091.0 60.4 L1091.4 60.0 L1091.8 59.8 L1092.0 59.8 L1092.2 59.8 L1092.6 60.0 L1093.0 60.4 L1093.4 61.0 L1093.8 61.6 L1094.2 62.3 L1094.6 63.0 L1094.6 63.0 L1095.0 63.9 L1095.4 65.1 L1095.8 66.4 L1096.2 68.0 L1096.6 69.5 L1097.0 71.1 L1097.4 72.5 L1097.8 73.8 L1097.8 73.8 L1098.2 75.0 L1098.6 76.2 L1099.0 77.4 L1099.4 78.6 L1099.8 79.7 L1100.2 80.6 L1100.6 81.4 L1101.0 81.9 L1101.1 82.0 L1101.4 82.2 L1101.8 82.5 L1102.2 82.7 L1102.6 82.9 L1103.0 83.1 L1103.4 83.2 L1103.8 83.4 L1104.2 83.5 L1104.3 83.5 L1104.6 83.6 L1105.0 83.6 L1105.4 83.7 L1105.8 83.7 L1106.2 83.8 L1106.6 83.8 L1106.9 83.9 L1107.0 83.9 L1107.4 84.1 L1107.8 84.5 L1108.2 84.9 L1108.6 85.3 L1109.0 85.8 L1109.4 86.3 L1109.7 86.7 L1109.8 86.8 L1110.2 87.4 L1110.6 88.0 L1111.0 88.7 L1111.4 89.4 L1111.8 90.1 L1112.2 90.7 L1112.6 91.3 L1112.9 91.7 L1113.0 91.8 L1113.4 92.3 L1113.8 92.8 L1114.2 93.3 L1114.6 93.8 L1115.0 94.2 L1115.4 94.6 L1115.8 94.9 L1116.2 95.1 L1116.6 95.3 L1116.6 95.3 L1117.0 95.4 L1117.4 95.5 L1117.8 95.6 L1118.2 95.6 L1118.6 95.7 L1119.0 95.7 L1119.4 95.8 L1119.8 95.8 L1120.2 95.9 L1120.5 96.0 L1120.6 96.0 L1121.0 96.2 L1121.4 96.3 L1121.8 96.5 L1122.2 96.6 L1122.6 96.9 L1123.0 97.1 L1123.4 97.3 L1123.7 97.5 L1123.8 97.6 L1124.2 97.9 L1124.6 98.3 L1125.0 98.7 L1125.4 99.2 L1125.8 99.7 L1126.2 100.1 L1126.6 100.5 L1126.9 100.7 L1127.0 100.8 L1127.4 101.0 L1127.8 101.3 L1128.2 101.6 L1128.6 101.8 L1129.0 102.0 L1129.4 102.2 L1129.8 102.4 L1130.2 102.6 L1130.6 102.7 L1131.0 102.8 L1131.3 102.9 L1131.4 102.9 L1131.8 103.0 L1132.2 103.0 L1132.6 103.1 L1133.0 103.1 L1133.4 103.2 L1133.8 103.2 L1134.2 103.2 L1134.6 103.2 L1135.0 103.3 L1135.4 103.3 L1135.8 103.4 L1136.2 103.4 L1136.6 103.5 L1136.7 103.5 L1137.0 103.6 L1137.4 103.7 L1137.8 103.8 L1138.2 104.0 L1138.6 104.2 L1139.0 104.5 L1139.4 104.7 L1139.8 104.9 L1140.2 105.1 L1140.6 105.3 L1141.0 105.5 L1141.0 105.5 L1141.4 105.7 L1141.8 105.9 L1142.2 106.1 L1142.6 106.3 L1143.0 106.5 L1143.4 106.7 L1143.8 106.9 L1144.2 107.1 L1144.6 107.2 L1145.0 107.4 L1145.4 107.5 L1145.8 107.6 L1146.2 107.6 L1146.4 107.6 L1146.6 107.6 L1147.0 107.6 L1147.4 107.6 L1147.8 107.6 L1148.2 107.6 L1148.6 107.6 L1149.0 107.6 L1149.4 107.6 L1149.8 107.6 L1150.2 107.6 L1150.6 107.6 L1151.0 107.6 L1151.4 107.6 L1151.8 107.6 L1152.2 107.6 L1152.6 107.6 L1153.0 107.6 L1153.4 107.6 L1153.5 107.6 L1153.5 568.6 L1153.4 568.6 L1153.0 568.6 L1152.6 568.6 L1152.2 568.6 L1151.8 568.6 L1151.4 568.6 L1151.0 568.6 L1150.6 568.6 L1150.2 568.6 L1149.8 568.6 L1149.4 568.6 L1149.0 568.6 L1148.6 568.6 L1148.2 568.6 L1147.8 568.6 L1147.4 568.6 L1147.0 568.6 L1146.6 568.6 L1146.4 568.6 L1146.2 568.6 L1145.8 568.5 L1145.4 568.4 L1145.0 568.2 L1144.6 568.0 L1144.2 567.8 L1143.8 567.5 L1143.4 567.3 L1143.0 567.0 L1142.6 566.7 L1142.2 566.5 L1141.8 566.2 L1141.4 566.0 L1141.0 565.8 L1141.0 565.8 L1140.6 565.6 L1140.2 565.5 L1139.8 565.3 L1139.4 565.2 L1139.0 565.0 L1138.6 564.9 L1138.2 564.7 L1137.8 564.6 L1137.4 564.5 L1137.0 564.4 L1136.7 564.3 L1136.6 564.3 L1136.2 564.2 L1135.8 564.1 L1135.4 564.0 L1135.0 564.0 L1134.6 563.9 L1134.2 563.8 L1133.8 563.7 L1133.4 563.6 L1133.4 563.6 L1133.0 563.5 L1132.6 563.3 L1132.2 563.1 L1131.8 563.0 L1131.4 562.7 L1131.0 562.5 L1130.6 562.3 L1130.2 562.0 L1129.8 561.8 L1129.4 561.5 L1129.1 561.3 L1129.0 561.2 L1128.6 560.9 L1128.2 560.5 L1127.8 560.1 L1127.4 559.7 L1127.0 559.3 L1126.6 558.9 L1126.2 558.5 L1125.9 558.3 L1125.8 558.2 L1125.4 558.0 L1125.0 557.7 L1124.6 557.5 L1124.2 557.3 L1123.8 557.1 L1123.4 556.9 L1123.0 556.7 L1122.6 556.5 L1122.6 556.5 L1122.2 556.3 L1121.8 556.2 L1121.4 556.1 L1121.0 555.9 L1120.6 555.8 L1120.2 555.7 L1119.8 555.6 L1119.4 555.4 L1119.0 555.3 L1118.6 555.1 L1118.3 555.0 L1118.2 555.0 L1117.8 554.7 L1117.4 554.5 L1117.0 554.3 L1116.6 554.0 L1116.2 553.7 L1115.8 553.4 L1115.4 553.1 L1115.0 552.7 L1114.6 552.4 L1114.2 552.0 L1114.0 551.8 L1113.8 551.6 L1113.4 551.2 L1113.0 550.7 L1112.6 550.2 L1112.2 549.6 L1111.8 549.1 L1111.4 548.5 L1111.0 548.0 L1110.8 547.7 L1110.6 547.4 L1110.2 546.9 L1109.8 546.3 L1109.4 545.7 L1109.0 545.1 L1108.6 544.5 L1108.2 544.0 L1107.8 543.6 L1107.5 543.4 L1107.4 543.3 L1107.0 543.1 L1106.6 542.9 L1106.2 542.8 L1105.8 542.6 L1105.4 542.5 L1105.0 542.3 L1104.6 542.2 L1104.3 542.0 L1104.2 541.9 L1103.8 541.7 L1103.4 541.4 L1103.0 541.1 L1102.6 540.8 L1102.2 540.4 L1101.8 540.0 L1101.4 539.5 L1101.1 539.1 L1101.0 539.0 L1100.6 538.3 L1100.2 537.4 L1099.8 536.4 L1099.4 535.2 L1099.0 534.1 L1098.6 532.9 L1098.3 532.0 L1098.2 531.7 L1097.8 530.5 L1097.4 529.1 L1097.0 527.7 L1096.6 526.3 L1096.2 524.9 L1095.8 523.6 L1095.4 522.4 L1095.2 521.8 L1095.0 521.2 L1094.6 520.0 L1094.2 518.8 L1093.8 517.7 L1093.4 516.6 L1093.0 515.9 L1092.6 515.5 L1092.4 515.4 L1092.2 515.4 L1091.8 515.4 L1091.4 515.5 L1091.0 515.6 L1090.6 515.6 L1090.2 515.7 L1089.8 515.8 L1089.4 515.8 L1089.2 515.8 L1089.0 515.8 L1088.6 515.6 L1088.2 515.4 L1087.8 515.0 L1087.4 514.5 L1087.0 514.0 L1086.6 513.4 L1086.6 513.4 L1086.2 512.5 L1085.8 511.2 L1085.4 509.6 L1085.0 507.7 L1084.6 505.7 L1084.2 503.8 L1083.8 502.0 L1083.8 502.0 L1083.4 500.3 L1083.0 498.6 L1082.6 496.8 L1082.2 495.0 L1081.8 493.3 L1081.4 491.5 L1081.0 489.8 L1081.0 489.8 L1080.6 487.9 L1080.2 485.7 L1079.8 483.7 L1079.4 482.0 L1079.0 481.2 L1078.9 481.2 L1078.6 481.3 L1078.2 481.7 L1077.8 482.2 L1077.4 483.0 L1077.0 483.8 L1076.7 484.4 L1076.6 484.6 L1076.2 485.7 L1075.8 487.0 L1075.4 488.5 L1075.0 490.1 L1074.6 491.6 L1074.5 492.0 L1074.2 493.3 L1073.8 495.2 L1073.4 497.2 L1073.0 498.9 L1072.6 500.0 L1072.4 500.1 L1072.2 500.0 L1071.8 499.1 L1071.4 497.5 L1071.0 495.5 L1070.6 493.2 L1070.4 492.0 L1070.2 490.7 L1069.8 487.5 L1069.4 483.5 L1069.0 478.7 L1068.7 474.7 L1068.6 473.2 L1068.2 465.6 L1067.8 456.3 L1067.4 446.8 L1067.2 442.3 L1067.0 438.0 L1066.6 429.5 L1066.2 421.1 L1065.9 415.0 L1065.8 413.0 L1065.4 405.4 L1065.1 399.4 L1065.0 397.2 L1064.6 388.0 L1064.2 378.1 L1063.8 368.1 L1063.4 358.6 L1063.3 356.3 L1063.0 349.5 L1062.6 340.3 L1062.2 331.3 L1061.8 323.0 L1061.4 316.0 L1061.2 313.1 L1061.0 310.6 L1060.6 306.3 L1060.2 302.7 L1059.8 299.3 L1059.4 295.8 L1059.0 291.6 L1059.0 291.6 L1058.6 286.5 L1058.2 280.7 L1057.8 274.8 L1057.4 269.3 L1057.3 268.0 L1057.0 264.3 L1056.6 259.6 L1056.2 255.2 L1055.8 251.0 Z" fill="#4c62bc" fill-opacity="0.195" stroke="#4c62bc" stroke-opacity="0.2" stroke-width="1"/>
<path d="M692.6 338.6 L693.0 341.3 L693.4 343.6 L693.8 345.5 L694.1 346.6 L694.2 346.9 L694.6 348.0 L695.0 348.8 L695.4 349.5 L695.6 349.8 L695.8 350.0 L696.2 350.4 L696.6 350.7 L697.0 351.1 L697.3 351.5 L697.4 351.7 L697.8 353.1 L698.2 355.1 L698.4 356.3 L698.6 357.7 L699.0 361.7 L699.4 366.3 L699.8 370.5 L699.9 371.4 L700.2 373.8 L700.6 376.8 L701.0 379.5 L701.4 382.2 L701.7 384.3 L701.8 385.0 L702.2 388.1 L702.6 391.3 L703.0 394.1 L703.4 396.2 L703.4 396.2 L703.8 397.8 L704.2 399.1 L704.5 399.4 L704.6 399.3 L705.0 398.1 L705.4 395.6 L705.8 392.5 L706.0 390.8 L706.2 388.8 L706.6 383.4 L707.0 376.6 L707.4 368.9 L707.5 367.0 L707.8 360.7 L708.2 351.0 L708.6 340.3 L708.8 334.7 L709.0 328.7 L709.4 315.2 L709.8 301.2 L710.2 288.7 L710.3 286.0 L710.6 278.6 L711.0 269.8 L711.4 262.0 L711.4 262.0 L711.8 254.5 L712.2 248.2 L712.4 246.0 L712.6 244.3 L713.0 241.3 L713.4 239.7 L713.5 239.6 L713.8 240.2 L714.2 242.6 L714.6 246.0 L714.6 246.0 L715.0 251.8 L715.4 260.1 L715.7 266.0 L715.8 267.7 L716.2 274.2 L716.6 281.0 L716.8 285.0 L717.0 289.8 L717.4 301.5 L717.8 313.1 L717.8 313.1 L718.2 323.5 L718.6 333.5 L719.0 343.3 L719.4 352.9 L719.8 362.3 L720.0 367.0 L720.2 371.8 L720.6 382.0 L721.0 392.2 L721.4 401.6 L721.8 409.1 L722.0 412.0 L722.2 414.4 L722.6 418.5 L723.0 421.9 L723.4 424.9 L723.8 427.8 L724.2 430.8 L724.3 431.6 L724.6 433.9 L725.0 436.6 L725.4 439.1 L725.8 441.7 L726.2 444.5 L726.6 447.9 L727.0 451.9 L727.1 453.1 L727.4 457.7 L727.8 466.3 L728.2 476.1 L728.6 485.5 L728.6 485.5 L729.0 494.5 L729.4 503.7 L729.8 512.3 L730.1 517.8 L730.2 519.5 L730.6 526.0 L731.0 532.1 L731.4 537.3 L731.8 540.9 L731.9 541.5 L732.2 543.1 L732.6 545.0 L733.0 546.6 L733.4 547.8 L733.8 548.4 L734.0 548.5 L734.2 548.4 L734.6 547.4 L735.0 545.7 L735.4 543.4 L735.7 541.5 L735.8 540.7 L736.2 536.1 L736.6 529.5 L737.0 521.8 L737.2 517.8 L737.4 513.5 L737.8 503.3 L738.2 491.9 L738.6 480.3 L738.8 474.7 L739.0 469.1 L739.4 457.3 L739.8 445.5 L740.2 434.8 L740.5 428.0 L740.6 426.0 L741.0 418.2 L741.4 412.0 L741.6 410.0 L741.8 408.5 L742.2 405.8 L742.6 403.7 L743.0 402.3 L743.3 402.0 L743.4 402.1 L743.8 404.0 L744.2 407.7 L744.6 412.0 L744.6 412.0 L745.0 416.9 L745.4 423.5 L745.8 432.4 L745.9 435.0 L746.2 448.0 L746.6 473.1 L746.9 490.0 L747.0 494.5 L747.4 511.5 L747.8 526.7 L748.2 540.0 L748.2 540.0 L748.6 552.1 L749.0 563.3 L749.4 573.6 L749.8 582.8 L750.2 590.6 L750.2 590.6 L750.6 598.1 L751.0 605.3 L751.4 610.4 L751.7 611.7 L751.8 611.6 L752.2 608.7 L752.6 603.3 L753.0 597.0 L753.0 597.0 L753.4 588.9 L753.8 578.2 L754.2 567.2 L754.5 560.0 L754.6 557.9 L755.0 549.1 L755.4 540.9 L755.8 534.5 L756.0 532.3 L756.2 530.6 L756.6 527.4 L757.0 524.7 L757.4 522.8 L757.8 521.8 L757.9 521.8 L758.2 522.4 L758.6 524.9 L759.0 528.5 L759.2 530.5 L759.4 533.6 L759.8 543.3 L760.2 551.9 L760.3 553.0 L760.6 555.4 L761.0 557.8 L761.4 558.8 L761.4 558.8 L761.8 554.2 L762.2 544.0 L762.5 536.0 L762.6 533.5 L763.0 522.7 L763.4 510.8 L763.8 498.0 L763.8 498.0 L764.2 483.3 L764.6 467.0 L765.0 451.7 L765.3 442.3 L765.4 439.6 L765.8 429.2 L766.2 421.1 L766.4 418.6 L766.6 416.7 L767.0 413.7 L767.4 412.4 L767.4 412.4 L767.8 413.5 L768.2 416.2 L768.5 418.6 L768.6 419.5 L769.0 425.0 L769.4 432.2 L769.8 439.3 L770.0 442.3 L770.2 445.0 L770.6 450.4 L771.0 455.5 L771.4 460.3 L771.8 464.6 L772.2 468.2 L772.2 468.2 L772.6 471.4 L773.0 474.3 L773.4 477.0 L773.8 479.4 L774.2 481.7 L774.6 483.7 L775.0 485.5 L775.0 485.5 L775.4 487.3 L775.8 489.0 L776.2 490.6 L776.6 491.8 L777.0 492.4 L777.1 492.4 L777.4 492.2 L777.8 491.2 L778.2 489.6 L778.6 487.6 L779.0 485.2 L779.3 483.3 L779.4 482.6 L779.8 478.7 L780.2 473.3 L780.6 466.8 L781.0 459.6 L781.0 459.6 L781.4 451.2 L781.8 440.9 L782.2 428.5 L782.3 425.0 L782.6 411.5 L783.0 389.7 L783.2 380.0 L783.4 371.6 L783.8 355.9 L784.2 341.4 L784.6 327.4 L784.7 323.9 L785.0 314.0 L785.4 301.7 L785.8 289.2 L786.2 275.0 L786.2 275.0 L786.6 255.9 L786.8 248.0 L787.0 242.2 L787.4 231.3 L787.8 222.5 L788.2 217.4 L788.4 216.7 L788.6 217.0 L789.0 219.4 L789.4 223.3 L789.8 228.0 L790.1 231.4 L790.2 232.5 L790.6 238.0 L791.0 244.3 L791.4 251.1 L791.8 257.7 L792.2 263.7 L792.2 263.7 L792.6 269.9 L793.0 276.5 L793.4 282.2 L793.8 285.7 L794.0 286.2 L794.2 285.8 L794.6 282.7 L795.0 277.8 L795.2 275.0 L795.4 271.3 L795.8 259.8 L796.2 246.5 L796.5 237.8 L796.6 235.3 L797.0 225.0 L797.4 215.1 L797.8 206.5 L798.2 200.1 L798.3 199.0 L798.6 196.0 L799.0 192.3 L799.4 189.3 L799.8 187.3 L800.2 186.5 L800.2 186.5 L800.6 187.1 L801.0 188.8 L801.4 191.2 L801.8 194.2 L802.2 197.4 L802.4 199.0 L802.6 200.7 L803.0 205.0 L803.4 210.1 L803.8 215.8 L804.2 222.1 L804.5 227.0 L804.6 228.7 L805.0 235.8 L805.4 243.8 L805.8 252.8 L806.2 263.2 L806.3 266.0 L806.6 276.1 L807.0 292.5 L807.3 305.0 L807.4 309.1 L807.8 326.9 L808.2 345.0 L808.6 360.8 L808.8 367.0 L809.0 372.3 L809.4 381.4 L809.8 389.3 L810.2 396.5 L810.6 403.7 L810.6 403.7 L811.0 411.0 L811.4 417.8 L811.6 421.0 L811.8 424.0 L812.2 429.6 L812.6 434.7 L812.7 435.9 L813.0 439.9 L813.4 445.6 L813.8 450.2 L814.2 452.1 L814.2 452.1 L814.6 449.2 L815.0 442.2 L815.4 433.9 L815.5 432.0 L815.8 425.5 L816.2 415.3 L816.6 404.6 L817.0 395.0 L817.0 395.0 L817.4 386.4 L817.8 378.2 L818.2 371.1 L818.5 367.0 L818.6 365.9 L819.0 361.7 L819.4 358.2 L819.8 355.1 L820.2 352.5 L820.3 351.9 L820.6 350.1 L821.0 347.9 L821.4 345.8 L821.8 344.1 L822.2 342.7 L822.4 342.2 L822.6 341.8 L823.0 340.9 L823.4 340.2 L823.8 339.6 L824.2 339.2 L824.6 339.0 L824.6 339.0 L825.0 338.9 L825.4 338.8 L825.8 338.8 L825.8 338.8 L826.2 339.6 L826.6 341.9 L827.0 345.0 L827.4 348.5 L827.8 351.9 L827.8 351.9 L828.2 355.8 L828.6 360.1 L828.9 362.7 L829.0 363.4 L829.4 366.1 L829.8 368.3 L830.2 369.2 L830.2 369.2 L830.6 365.8 L831.0 358.3 L831.1 356.3 L831.4 348.2 L831.8 333.0 L832.2 316.8 L832.3 313.1 L832.6 302.7 L833.0 288.8 L833.2 281.0 L833.4 272.2 L833.8 252.1 L834.2 231.7 L834.3 227.0 L834.6 212.9 L835.0 194.2 L835.4 176.8 L835.8 162.3 L835.8 162.3 L836.2 150.1 L836.6 139.8 L836.9 134.3 L837.0 132.9 L837.4 127.8 L837.7 126.2 L837.8 126.2 L838.2 126.9 L838.6 128.3 L839.0 130.3 L839.3 132.0 L839.4 132.8 L839.8 138.2 L840.2 146.3 L840.6 155.5 L840.8 160.0 L841.0 164.7 L841.4 175.5 L841.8 187.4 L842.2 199.2 L842.6 209.8 L842.9 216.3 L843.0 218.2 L843.4 225.1 L843.8 231.2 L844.2 236.7 L844.6 242.0 L845.0 247.3 L845.1 248.6 L845.4 252.6 L845.8 258.0 L846.2 263.2 L846.6 267.9 L847.0 272.0 L847.0 272.0 L847.4 275.3 L847.8 278.2 L848.2 280.9 L848.5 283.0 L848.6 283.7 L849.0 286.5 L849.4 289.1 L849.8 292.0 L850.2 295.2 L850.5 298.0 L850.6 299.1 L851.0 304.1 L851.4 310.1 L851.8 316.8 L852.2 323.9 L852.2 323.9 L852.6 331.4 L853.0 339.6 L853.4 348.8 L853.7 356.3 L853.8 359.0 L854.2 371.4 L854.6 385.1 L854.8 392.0 L855.0 399.0 L855.4 413.8 L855.8 428.5 L855.9 432.0 L856.2 442.6 L856.6 457.0 L857.0 470.3 L857.4 481.2 L857.4 481.2 L857.8 490.2 L858.2 498.4 L858.6 505.3 L859.0 510.4 L859.1 511.4 L859.4 514.1 L859.7 515.4 L859.8 515.3 L860.2 513.1 L860.6 509.1 L860.8 507.0 L861.0 504.6 L861.4 498.0 L861.8 490.3 L862.2 482.9 L862.3 481.2 L862.6 476.3 L863.0 469.5 L863.4 462.8 L863.8 456.8 L864.2 451.7 L864.5 448.8 L864.6 448.0 L865.0 444.9 L865.4 442.1 L865.8 439.8 L866.2 438.0 L866.6 437.0 L866.6 437.0 L867.0 436.4 L867.4 436.0 L867.7 435.9 L867.8 436.0 L868.2 437.1 L868.6 439.3 L869.0 441.9 L869.4 444.5 L869.4 444.5 L869.8 447.1 L870.2 450.1 L870.6 453.0 L871.0 455.3 L871.0 455.3 L871.4 457.4 L871.8 458.9 L872.0 459.2 L872.2 458.7 L872.6 455.7 L873.0 451.2 L873.1 450.0 L873.4 445.5 L873.8 437.4 L874.2 428.0 L874.2 428.0 L874.6 416.8 L875.0 403.7 L875.4 390.8 L875.6 385.0 L875.8 379.4 L876.2 368.0 L876.6 357.2 L877.0 347.9 L877.4 341.2 L877.4 341.2 L877.8 336.6 L878.2 333.2 L878.5 331.5 L878.6 331.1 L879.0 329.7 L879.4 328.8 L879.6 328.7 L879.8 328.9 L880.2 330.1 L880.6 332.0 L880.7 332.5 L881.0 334.9 L881.4 339.7 L881.8 345.2 L882.2 349.8 L882.2 349.8 L882.6 353.3 L883.0 356.4 L883.4 359.3 L883.8 362.0 L883.9 362.7 L884.2 364.5 L884.6 366.6 L885.0 368.7 L885.4 371.4 L885.4 371.4 L885.8 375.2 L886.2 379.9 L886.6 385.0 L887.0 389.7 L887.1 390.8 L887.4 394.0 L887.8 398.5 L888.2 402.7 L888.6 406.1 L888.9 408.0 L889.0 408.5 L889.4 410.0 L889.8 411.2 L890.2 412.3 L890.4 413.0 L890.6 413.7 L891.0 414.9 L891.4 416.2 L891.8 417.6 L892.2 419.3 L892.5 420.8 L892.6 421.4 L893.0 424.5 L893.4 428.5 L893.8 433.1 L894.2 438.0 L894.2 438.0 L894.6 443.5 L895.0 449.9 L895.4 456.8 L895.8 463.9 L895.8 463.9 L896.2 472.4 L896.6 480.7 L896.8 483.3 L897.0 485.1 L897.4 487.9 L897.7 488.7 L897.8 488.6 L898.2 485.9 L898.6 480.8 L899.0 474.7 L899.0 474.7 L899.4 466.6 L899.8 455.5 L900.2 443.5 L900.5 435.0 L900.6 432.4 L901.0 422.9 L901.4 412.9 L901.8 400.0 L901.8 400.0 L902.2 377.7 L902.4 367.0 L902.6 358.9 L903.0 344.7 L903.4 332.5 L903.7 323.9 L903.8 321.1 L904.2 310.0 L904.6 300.0 L905.0 291.6 L905.0 291.6 L905.4 284.5 L905.8 278.4 L906.2 274.0 L906.2 274.0 L906.6 270.7 L907.0 269.1 L907.0 269.1 L907.4 274.3 L907.8 286.2 L908.2 299.4 L908.3 302.3 L908.6 310.7 L909.0 322.5 L909.4 334.4 L909.8 345.5 L909.8 345.5 L910.2 356.4 L910.6 367.1 L911.0 376.6 L911.3 382.1 L911.4 383.7 L911.8 390.0 L912.2 394.4 L912.4 395.1 L912.6 394.6 L913.0 391.2 L913.4 386.1 L913.7 382.1 L913.8 380.8 L914.2 374.7 L914.6 367.6 L915.0 360.1 L915.2 356.3 L915.4 352.5 L915.8 344.3 L916.2 335.7 L916.6 327.1 L917.0 318.9 L917.3 313.1 L917.4 311.2 L917.8 303.6 L918.2 295.9 L918.6 288.7 L919.0 282.4 L919.4 277.5 L919.5 276.5 L919.8 273.7 L920.2 270.5 L920.6 269.1 L920.6 269.1 L921.0 269.5 L921.4 270.7 L921.8 272.8 L922.1 275.0 L922.2 277.1 L922.6 298.0 L922.7 302.3 L923.0 312.8 L923.4 326.0 L923.8 336.2 L924.2 341.2 L924.2 341.2 L924.6 342.4 L925.0 343.1 L925.4 343.6 L925.8 344.2 L926.2 344.9 L926.4 345.5 L926.6 346.3 L927.0 348.7 L927.4 351.8 L927.8 355.4 L927.9 356.3 L928.2 359.3 L928.6 364.0 L929.0 369.3 L929.4 374.9 L929.6 377.8 L929.8 380.9 L930.2 387.9 L930.6 395.4 L931.0 402.8 L931.4 409.3 L931.6 412.0 L931.8 414.4 L932.2 418.7 L932.6 422.5 L932.9 425.1 L933.0 425.9 L933.4 429.6 L933.8 433.0 L934.2 435.1 L934.4 435.4 L934.6 434.8 L935.0 430.3 L935.4 422.9 L935.5 420.8 L935.8 408.9 L936.2 385.4 L936.3 380.0 L936.6 364.4 L937.0 344.0 L937.2 334.7 L937.4 326.5 L937.8 312.3 L938.2 298.0 L938.5 285.0 L938.6 279.8 L939.0 254.4 L939.3 235.0 L939.4 228.9 L939.8 203.1 L940.2 179.0 L940.6 162.3 L940.6 162.3 L941.0 152.2 L941.4 144.0 L941.8 137.5 L942.2 132.2 L942.4 130.0 L942.6 127.9 L943.0 123.7 L943.4 120.0 L943.8 117.2 L944.2 115.9 L944.3 115.8 L944.6 116.6 L945.0 119.9 L945.4 124.7 L945.8 130.0 L945.8 130.0 L946.2 136.5 L946.6 145.0 L947.0 154.7 L947.3 162.3 L947.4 164.9 L947.8 177.0 L948.2 190.4 L948.6 204.0 L949.0 216.3 L949.0 216.3 L949.4 227.3 L949.8 237.6 L950.2 247.6 L950.6 257.2 L950.8 262.0 L951.0 266.7 L951.4 275.9 L951.8 284.9 L952.2 293.7 L952.3 295.9 L952.6 303.0 L953.0 312.3 L953.3 317.4 L953.4 318.6 L953.8 323.4 L954.2 327.3 L954.6 329.2 L954.7 329.3 L955.0 328.7 L955.4 326.3 L955.8 322.6 L956.2 318.0 L956.6 313.1 L956.6 313.1 L957.0 306.7 L957.4 298.1 L957.8 288.7 L958.0 284.0 L958.2 279.1 L958.6 268.3 L959.0 257.5 L959.4 248.6 L959.4 248.6 L959.8 241.4 L960.2 234.8 L960.6 229.6 L960.9 227.0 L961.0 226.4 L961.4 224.0 L961.8 222.0 L962.2 220.6 L962.6 220.1 L962.6 220.1 L963.0 221.3 L963.4 224.4 L963.8 228.3 L964.1 231.4 L964.2 232.4 L964.6 237.5 L965.0 243.6 L965.4 250.3 L965.8 256.8 L966.2 262.7 L966.3 264.0 L966.6 267.8 L967.0 272.9 L967.4 277.6 L967.8 281.4 L968.0 282.9 L968.2 284.2 L968.6 286.7 L969.0 289.0 L969.4 290.9 L969.8 292.1 L970.2 292.6 L970.2 292.6 L970.6 291.7 L971.0 289.3 L971.4 285.9 L971.8 282.0 L971.9 281.0 L972.2 277.2 L972.6 270.3 L973.0 262.4 L973.4 255.1 L973.4 255.1 L973.8 248.0 L974.2 240.7 L974.6 234.5 L974.9 231.4 L975.0 230.7 L975.4 227.8 L975.8 225.4 L976.2 223.8 L976.6 223.2 L976.6 223.2 L977.0 225.0 L977.4 229.4 L977.7 233.5 L977.8 235.2 L978.2 245.8 L978.6 259.4 L978.8 266.0 L979.0 272.6 L979.4 287.0 L979.8 299.8 L979.9 302.3 L980.2 309.6 L980.6 319.2 L981.0 326.4 L981.4 329.3 L981.4 329.3 L981.8 327.7 L982.2 323.5 L982.6 317.8 L982.9 313.1 L983.0 311.3 L983.4 301.4 L983.8 289.2 L984.0 283.0 L984.2 276.6 L984.6 262.3 L985.0 248.5 L985.3 240.0 L985.4 237.7 L985.8 229.1 L986.2 221.5 L986.6 214.7 L987.0 208.5 L987.2 205.5 L987.4 202.5 L987.8 196.7 L988.2 191.3 L988.6 186.7 L988.9 183.9 L989.0 183.1 L989.4 180.0 L989.8 177.4 L990.2 175.5 L990.4 174.9 L990.6 174.5 L991.0 173.7 L991.4 173.2 L991.7 173.1 L991.8 173.1 L992.2 173.5 L992.6 174.4 L993.0 175.7 L993.2 176.4 L993.4 177.5 L993.8 181.2 L994.2 186.3 L994.6 191.9 L994.8 194.7 L995.0 197.6 L995.4 204.0 L995.8 211.0 L996.2 217.9 L996.5 222.7 L996.6 224.2 L997.0 230.4 L997.4 236.4 L997.8 241.9 L998.2 246.5 L998.2 246.5 L998.6 250.9 L999.0 253.8 L999.1 254.0 L999.4 254.0 L999.8 254.0 L1000.2 254.0 L1000.6 254.0 L1000.8 254.0 L1001.0 254.0 L1001.4 253.8 L1001.8 253.6 L1002.1 253.5 L1002.2 253.7 L1002.6 258.3 L1003.0 265.0 L1003.0 265.0 L1003.4 271.7 L1003.8 279.4 L1004.2 288.0 L1004.5 295.0 L1004.6 297.5 L1005.0 308.4 L1005.4 320.7 L1005.8 333.3 L1006.2 345.5 L1006.2 345.5 L1006.6 357.7 L1007.0 370.1 L1007.4 381.5 L1007.7 388.6 L1007.8 390.7 L1008.2 399.3 L1008.6 406.5 L1009.0 410.2 L1009.0 410.2 L1009.4 411.2 L1009.8 411.8 L1010.2 412.2 L1010.6 413.0 L1010.7 413.3 L1011.0 414.8 L1011.4 418.3 L1011.8 423.1 L1012.2 428.7 L1012.6 434.5 L1012.7 435.9 L1013.0 441.4 L1013.4 450.8 L1013.8 459.5 L1014.2 463.9 L1014.2 463.9 L1014.6 464.9 L1015.0 465.5 L1015.2 465.6 L1015.4 463.2 L1015.8 449.1 L1015.9 445.0 L1016.2 428.1 L1016.6 400.0 L1016.6 400.0 L1017.0 371.6 L1017.4 344.6 L1017.6 334.7 L1017.8 326.7 L1018.2 312.9 L1018.6 303.6 L1018.7 302.3 L1019.0 299.1 L1019.4 296.3 L1019.6 295.9 L1019.8 296.9 L1020.2 302.3 L1020.2 302.3 L1020.6 314.1 L1021.0 332.2 L1021.3 345.5 L1021.4 349.6 L1021.8 366.3 L1022.2 383.3 L1022.6 399.4 L1022.6 399.4 L1023.0 415.8 L1023.3 425.0 L1023.4 427.0 L1023.8 434.3 L1024.2 438.3 L1024.3 438.5 L1024.6 437.3 L1025.0 432.9 L1025.4 426.5 L1025.6 423.0 L1025.8 418.6 L1026.2 405.8 L1026.6 391.7 L1026.7 388.6 L1027.0 379.5 L1027.4 367.2 L1027.8 355.7 L1028.2 345.5 L1028.2 345.5 L1028.6 336.3 L1029.0 327.5 L1029.4 319.9 L1029.8 314.1 L1029.9 313.1 L1030.2 310.3 L1030.6 307.1 L1031.0 304.7 L1031.4 303.4 L1031.4 303.4 L1031.8 302.9 L1032.2 302.5 L1032.6 302.3 L1032.7 302.3 L1033.0 302.5 L1033.4 303.5 L1033.8 304.9 L1034.2 306.7 L1034.2 306.7 L1034.6 309.7 L1035.0 314.4 L1035.4 319.8 L1035.7 323.9 L1035.8 325.3 L1036.2 331.3 L1036.6 337.9 L1037.0 344.6 L1037.4 350.6 L1037.5 352.0 L1037.8 355.9 L1038.2 361.1 L1038.6 365.8 L1039.0 369.8 L1039.2 371.4 L1039.4 373.0 L1039.8 376.1 L1040.2 378.6 L1040.6 379.9 L1040.7 380.0 L1041.0 379.4 L1041.4 376.9 L1041.8 373.5 L1041.8 373.5 L1042.2 367.8 L1042.6 358.9 L1043.0 348.3 L1043.1 345.5 L1043.4 336.2 L1043.8 321.2 L1044.2 304.1 L1044.4 295.0 L1044.6 284.7 L1045.0 260.6 L1045.4 240.0 L1045.4 240.0 L1045.8 225.5 L1046.2 213.2 L1046.6 203.3 L1046.7 201.2 L1047.0 195.1 L1047.4 188.1 L1047.8 183.9 L1047.8 183.9 L1048.2 181.8 L1048.6 180.4 L1048.9 180.0 L1049.0 180.0 L1049.4 180.9 L1049.8 182.6 L1050.2 184.9 L1050.4 186.1 L1050.6 187.7 L1051.0 192.6 L1051.4 198.6 L1051.8 204.3 L1051.9 205.5 L1052.2 208.9 L1052.6 213.2 L1053.0 217.2 L1053.4 221.0 L1053.6 222.7 L1053.8 224.3 L1054.2 227.5 L1054.6 230.3 L1055.0 232.9 L1055.1 233.5" fill="none" stroke="#000" stroke-width="2.5" stroke-linejoin="round" stroke-linecap="butt"/>
<path d="M1055.8 243.2 L1056.2 245.2 L1056.6 247.0 L1057.0 248.3 L1057.3 249.0 L1057.4 249.2 L1057.8 249.8 L1058.2 250.3 L1058.6 250.7 L1059.0 250.8 L1059.0 250.8 L1059.4 250.6 L1059.8 250.3 L1060.2 249.8 L1060.6 249.3 L1061.0 249.0 L1061.2 249.0 L1061.4 249.0 L1061.8 249.3 L1062.2 249.7 L1062.6 250.3 L1062.9 250.8 L1063.0 251.0 L1063.4 252.7 L1063.8 255.3 L1064.2 258.1 L1064.4 259.4 L1064.6 260.7 L1065.0 263.5 L1065.4 266.5 L1065.8 269.5 L1066.2 272.4 L1066.6 275.0 L1066.6 275.0 L1067.0 277.4 L1067.4 279.6 L1067.8 281.7 L1068.2 283.6 L1068.3 284.0 L1068.6 285.3 L1069.0 287.1 L1069.4 288.8 L1069.8 290.2 L1070.2 291.0 L1070.4 291.1 L1070.6 291.0 L1071.0 290.6 L1071.4 289.9 L1071.8 288.9 L1072.2 287.7 L1072.6 286.4 L1073.0 285.1 L1073.0 285.1 L1073.4 283.4 L1073.8 281.1 L1074.2 278.5 L1074.6 275.8 L1075.0 273.2 L1075.2 272.0 L1075.4 270.8 L1075.8 268.4 L1076.2 265.8 L1076.6 263.6 L1077.0 261.9 L1077.3 261.1 L1077.4 260.9 L1077.8 260.3 L1078.2 259.8 L1078.6 259.5 L1078.9 259.4 L1079.0 259.4 L1079.4 259.8 L1079.8 260.5 L1080.2 261.5 L1080.6 262.6 L1080.6 262.6 L1081.0 264.1 L1081.4 266.3 L1081.8 268.8 L1082.2 271.3 L1082.6 273.5 L1082.7 274.0 L1083.0 275.3 L1083.4 276.9 L1083.8 278.3 L1084.2 279.7 L1084.3 280.0 L1084.6 281.0 L1085.0 282.2 L1085.4 283.5 L1085.8 284.6 L1086.2 285.5 L1086.6 286.2 L1086.6 286.2 L1087.0 286.8 L1087.4 287.3 L1087.8 287.7 L1088.2 288.1 L1088.6 288.3 L1088.8 288.3 L1089.0 288.3 L1089.4 288.1 L1089.8 287.8 L1090.2 287.5 L1090.6 287.1 L1091.0 286.9 L1091.4 286.8 L1091.4 286.8 L1091.8 287.0 L1092.2 287.6 L1092.6 288.4 L1093.0 289.3 L1093.4 290.3 L1093.5 290.5 L1093.8 291.2 L1094.2 292.2 L1094.6 293.4 L1095.0 294.6 L1095.4 295.9 L1095.8 297.2 L1096.2 298.4 L1096.6 299.6 L1096.8 300.2 L1097.0 300.8 L1097.4 301.9 L1097.8 303.1 L1098.2 304.2 L1098.6 305.3 L1099.0 306.3 L1099.4 307.3 L1099.8 308.1 L1100.0 308.4 L1100.2 308.7 L1100.6 309.3 L1101.0 309.9 L1101.4 310.5 L1101.8 311.0 L1102.2 311.4 L1102.6 311.8 L1103.0 312.0 L1103.2 312.1 L1103.4 312.2 L1103.8 312.3 L1104.2 312.3 L1104.6 312.4 L1105.0 312.4 L1105.4 312.5 L1105.8 312.5 L1106.2 312.6 L1106.5 312.7 L1106.6 312.7 L1107.0 312.9 L1107.4 313.2 L1107.8 313.5 L1108.2 313.9 L1108.6 314.4 L1109.0 314.8 L1109.4 315.3 L1109.7 315.7 L1109.8 315.8 L1110.2 316.4 L1110.6 317.1 L1111.0 317.9 L1111.4 318.7 L1111.8 319.5 L1112.2 320.2 L1112.6 320.9 L1112.9 321.3 L1113.0 321.4 L1113.4 321.9 L1113.8 322.5 L1114.2 323.0 L1114.6 323.4 L1115.0 323.9 L1115.4 324.3 L1115.8 324.7 L1116.2 325.0 L1116.6 325.3 L1117.0 325.5 L1117.2 325.6 L1117.4 325.7 L1117.8 325.8 L1118.2 325.9 L1118.6 325.9 L1119.0 326.0 L1119.4 326.1 L1119.8 326.1 L1120.2 326.2 L1120.6 326.2 L1121.0 326.3 L1121.4 326.4 L1121.6 326.5 L1121.8 326.6 L1122.2 326.8 L1122.6 327.0 L1123.0 327.3 L1123.4 327.6 L1123.8 327.9 L1124.2 328.2 L1124.6 328.6 L1124.8 328.7 L1125.0 328.9 L1125.4 329.2 L1125.8 329.5 L1126.2 329.9 L1126.6 330.3 L1127.0 330.6 L1127.4 331.0 L1127.8 331.3 L1128.2 331.6 L1128.6 331.9 L1129.0 332.1 L1129.1 332.1 L1129.4 332.2 L1129.8 332.4 L1130.2 332.5 L1130.6 332.6 L1131.0 332.7 L1131.4 332.8 L1131.8 332.9 L1132.2 333.0 L1132.6 333.1 L1133.0 333.1 L1133.4 333.2 L1133.4 333.2 L1133.8 333.3 L1134.2 333.3 L1134.6 333.3 L1135.0 333.4 L1135.4 333.4 L1135.8 333.5 L1136.2 333.5 L1136.6 333.6 L1136.7 333.6 L1137.0 333.7 L1137.4 333.8 L1137.8 333.9 L1138.2 334.1 L1138.6 334.2 L1139.0 334.4 L1139.4 334.6 L1139.8 334.8 L1140.2 335.0 L1140.6 335.1 L1141.0 335.3 L1141.0 335.3 L1141.4 335.5 L1141.8 335.7 L1142.2 335.8 L1142.6 336.0 L1143.0 336.3 L1143.4 336.5 L1143.8 336.6 L1144.2 336.8 L1144.6 337.0 L1145.0 337.2 L1145.4 337.3 L1145.8 337.4 L1146.2 337.5 L1146.4 337.5 L1146.6 337.5 L1147.0 337.6 L1147.4 337.6 L1147.8 337.6 L1148.2 337.7 L1148.6 337.7 L1149.0 337.7 L1149.4 337.8 L1149.8 337.8 L1150.2 337.8 L1150.6 337.8 L1151.0 337.8 L1151.4 337.9 L1151.8 337.9 L1152.2 337.9 L1152.6 337.9 L1153.0 337.9 L1153.4 337.9 L1153.5 337.9" fill="none" stroke="#4b5f9b" stroke-width="2.5" stroke-linejoin="round" stroke-linecap="butt"/>
</g>
<path d="M680.3 641.25v5.9M754.3 641.25v5.9M829.3 641.25v5.9M905.4 641.25v5.9M980.1 641.25v5.9M1054.8 641.25v5.9M1126.9 641.25v5.9M670.4 50.2h-5.9M670.4 133.3h-5.9M670.4 216.4h-5.9M670.4 299.6h-5.9M670.4 382.7h-5.9M670.4 465.8h-5.9M670.4 548.9h-5.9M670.4 632.0h-5.9" fill="none" stroke="#000" stroke-width="1.3"/>
<rect x="670.4" y="11.4" width="505.80000000000007" height="629.85" fill="none" stroke="#000" stroke-width="1.35"/>
<text x="680.3" y="666.6" text-anchor="middle">2017-03</text>
<text x="754.3" y="666.6" text-anchor="middle">2017-05</text>
<text x="829.3" y="666.6" text-anchor="middle">2017-07</text>
<text x="905.4" y="666.6" text-anchor="middle">2017-09</text>
<text x="980.1" y="666.6" text-anchor="middle">2017-11</text>
<text x="1054.8" y="666.6" text-anchor="middle">2018-01</text>
<text x="1126.9" y="666.6" text-anchor="middle">2018-03</text>
<text x="658.1" y="57.8" text-anchor="end">62.5</text>
<text x="658.1" y="140.9" text-anchor="end">60.0</text>
<text x="658.1" y="224.0" text-anchor="end">57.5</text>
<text x="658.1" y="307.2" text-anchor="end">55.0</text>
<text x="658.1" y="390.3" text-anchor="end">52.5</text>
<text x="658.1" y="473.4" text-anchor="end">50.0</text>
<text x="658.1" y="556.5" text-anchor="end">47.5</text>
<text x="658.1" y="639.6" text-anchor="end">45.0</text>
<text x="923.3" y="692" text-anchor="middle">time</text>
<text transform="translate(609.5 328.4) rotate(-90)" text-anchor="middle">v2</text>
<text class="wm" x="1006.0" y="683.9" style="font-size:17.8px;font-weight:300;fill:#7f7f7f;fill-opacity:.92;stroke:#fff;stroke-opacity:.5;stroke-width:1;paint-order:stroke"><tspan style="font-size:17.2px" dy="0.4">@</tspan><tspan x="1023.4" dy="-0.4">稀土掘金技术社区</tspan></text>
</svg></body></html>
